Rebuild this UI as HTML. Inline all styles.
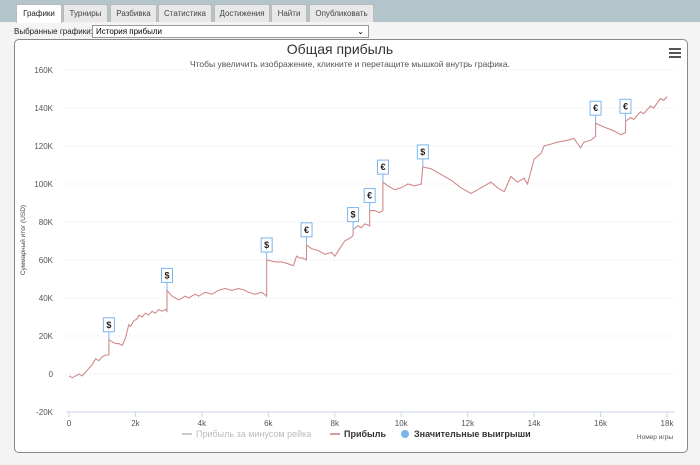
<!DOCTYPE html>
<html><head><meta charset="utf-8">
<style>
body{margin:0;width:700px;height:465px;background:#f4f4f4;font-family:"Liberation Sans","DejaVu Sans",sans-serif;position:relative;overflow:hidden}
.topbar{position:absolute;left:0;top:0;width:700px;height:22px;background:#b3c4cb}
.tab{position:absolute;top:4px;height:17px;background:#e8e8e8;border:1px solid #bbb;border-bottom:none;font-size:8px;color:#444;text-align:center;line-height:17px;border-radius:2px 2px 0 0}
.tab.active{background:#fff;color:#222;height:18px}
.lbl{position:absolute;left:14px;top:27px;font-size:8px;color:#222}
.sel{position:absolute;left:92px;top:25px;width:272px;height:11px;border:1px solid #999;background:#fff;font-size:8px;line-height:11px;padding-left:3px;box-sizing:content-box}
.panel{position:absolute;left:14px;top:39px;width:674px;height:414px;background:#fff;border:1px solid #888;border-radius:5px;box-sizing:border-box}
</style></head><body>
<div class="topbar"></div>
<div class="tab active" style="left:16px;width:44px">Графики</div>
<div class="tab" style="left:63px;width:43px">Турниры</div>
<div class="tab" style="left:110px;width:45px">Разбивка</div>
<div class="tab" style="left:158px;width:52px">Статистика</div>
<div class="tab" style="left:214px;width:54px">Достижения</div>
<div class="tab" style="left:271px;width:34px">Найти</div>
<div class="tab" style="left:309px;width:63px">Опубликовать</div>
<div class="lbl">Выбранные графики:</div>
<div class="sel">История прибыли<span style="position:absolute;right:4px;top:0;font-size:8px">&#x2304;</span></div>
<div class="panel"></div>
<svg id="chart" width="700" height="465" style="position:absolute;left:0;top:0" xmlns="http://www.w3.org/2000/svg">
<text x="340" y="54" text-anchor="middle" font-size="14" fill="#333">Общая прибыль</text>
<text x="350" y="67" text-anchor="middle" font-size="8.5" fill="#555">Чтобы увеличить изображение, кликните и перетащите мышкой внутрь графика.</text>
<g fill="#555"><rect x="669" y="48" width="12" height="2"/><rect x="669" y="52" width="12" height="2"/><rect x="669" y="56" width="12" height="2"/></g>
<text transform="translate(25,240) rotate(-90)" text-anchor="middle" font-size="6.5" fill="#444">Суммарный итог (USD)</text>
<text x="673" y="439" text-anchor="end" font-size="6.5" fill="#555">Номер игры</text>
<g id="grid"></g><g id="axes"></g><g id="series"></g><g id="flags"></g>
<g font-size="9">
<line x1="182" y1="434" x2="192" y2="434" stroke="#ccc" stroke-width="2"/>
<text x="196" y="437" fill="#bbb">Прибыль за минусом рейка</text>
<line x1="330" y1="434" x2="340" y2="434" stroke="#d79a9a" stroke-width="2"/>
<text x="344" y="437" fill="#333" font-weight="bold">Прибыль</text>
<circle cx="405" cy="434" r="4" fill="#7cb5ec"/>
<text x="414" y="437" fill="#333" font-weight="bold">Значительные выигрыши</text>
</g>
</svg>
<script>
const games=[0,0.1,0.2,0.3,0.4,0.5,0.6,0.7,0.8,0.9,1.0,1.1,1.2,1.2,1.3,1.4,1.5,1.6,1.7,1.8,1.85,1.95,2.05,2.1,2.2,2.3,2.4,2.5,2.6,2.7,2.8,2.9,2.95,2.95,3.1,3.3,3.5,3.6,3.8,3.9,4.1,4.3,4.5,4.7,4.9,5.1,5.3,5.4,5.6,5.8,5.95,5.95,6.2,6.4,6.6,6.75,6.85,6.95,7.05,7.15,7.15,7.3,7.5,7.7,7.9,8.0,8.15,8.3,8.4,8.5,8.55,8.55,8.7,8.8,8.9,9.05,9.05,9.2,9.35,9.45,9.45,9.6,9.8,10.0,10.2,10.4,10.6,10.65,10.9,11.2,11.5,11.8,12.1,12.4,12.7,12.9,13.1,13.3,13.5,13.7,13.8,14.0,14.2,14.3,14.5,14.7,15.0,15.2,15.4,15.5,15.7,15.85,15.85,16.1,16.4,16.6,16.75,16.75,16.9,17.0,17.2,17.3,17.5,17.6,17.8,17.9,18.0];
const profit=[-1,-2,-1,0,-1,1,3,5,8,7,9,10,10,18,17,16,16,15,19,26,25,28,29,31,30,32,31,33,32,34,33,34,33,44,41,39,41,40,42,41,43,42,44,45,44,45,44,43,42,43,41,60,59,59,58,57,62,61,61,60,68,66,65,63,64,62,66,70,71,72,73,76,78,77,79,78,86,86,85,86,101,99,97,98,100,99,100,109,108,105,102,98,95,98,101,98,96,104,101,103,100,113,116,120,121,122,123,124,119,122,123,125,132,130,128,126,127,133,135,134,138,137,141,140,145,144,146];
const flagGames=[1.2,2.95,5.95,7.15,8.55,9.05,9.45,10.65,15.85,16.75];
const flagValues=[18,44,60,68,76,86,101,109,132,133];
const flagLabels=['$','$','$','€','$','€','€','$','€','€'];
const yTicks=[-20,0,20,40,60,80,100,120,140,160];
const yTickLabels=['-20K','0','20K','40K','60K','80K','100K','120K','140K','160K'];
const xTicks=[0,2,4,6,8,10,12,14,16,18];
const xTickLabels=['0','2k','4k','6k','8k','10k','12k','14k','16k','18k'];
const X=v=>69+v*(667-69)/18;
const Y=v=>374-v*(374-70)/160;
const NS='http://www.w3.org/2000/svg';
function mk(tag,attrs,parent){const e=document.createElementNS(NS,tag);for(const k in attrs)e.setAttribute(k,attrs[k]);parent.appendChild(e);return e;}
const grid=document.getElementById('grid'),axes=document.getElementById('axes');
yTicks.forEach((t,i)=>{
  if(t>-20){const l=mk('line',{x1:66,x2:675,y1:Y(t),y2:Y(t),stroke:'#ddd','stroke-dasharray':'1,3'},grid);
  
  }
  const tx=mk('text',{x:53,y:Y(t)+3,'text-anchor':'end','font-size':8,fill:'#555'},axes);tx.textContent=yTickLabels[i];
  
  
});
const ax=mk('line',{x1:66,x2:675,y1:Y(-20),y2:Y(-20),stroke:'#ccd6eb'},axes);


xTicks.forEach((t,i)=>{
  mk('line',{x1:X(t),x2:X(t),y1:Y(-20),y2:Y(-20)+5,stroke:'#ccd6eb'},axes);
  const tx=mk('text',{x:X(t),y:Y(-20)+14,'text-anchor':'middle','font-size':8,fill:'#555'},axes);tx.textContent=xTickLabels[i];
  
  
});
const pts=games.map((g,i)=>X(g).toFixed(1)+','+Y(profit[i]).toFixed(1)).join(' ');
const pl=mk('polyline',{points:pts,fill:'none',stroke:'#d08a8a','stroke-width':1.1},document.getElementById('series'));


const fl=document.getElementById('flags');
flagGames.forEach((g,i)=>{
  const x=X(g),y=Y(flagValues[i]);
  const grp=mk('g',{},fl);
  
  
  mk('line',{x1:x,x2:x,y1:y,y2:y-8,stroke:'#7cb5ec'},grp);
  mk('rect',{x:x-5.5,y:y-22,width:11,height:14,fill:'#fff',stroke:'#7cb5ec'},grp);
  const t=mk('text',{x:x,y:y-12,'text-anchor':'middle','font-size':9,'font-weight':'bold',fill:'#222'},grp);t.textContent=flagLabels[i];
});
</script>
</body></html>
